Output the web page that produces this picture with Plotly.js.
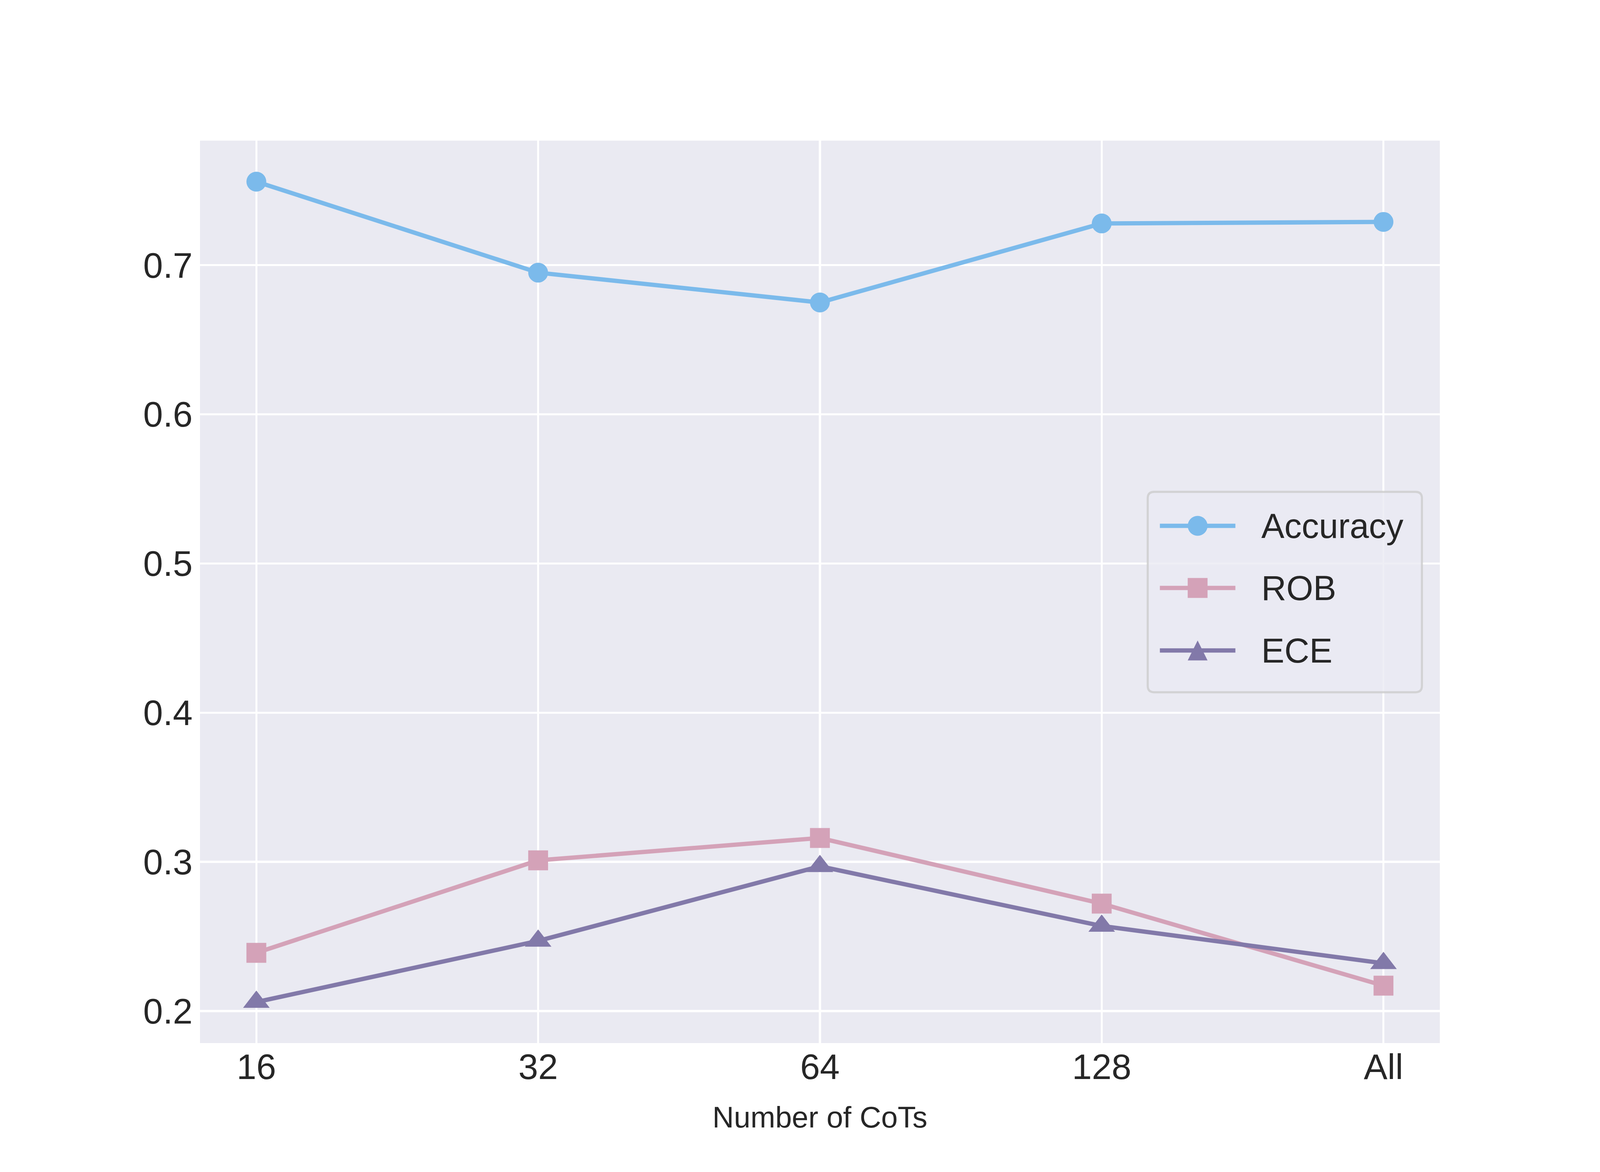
<!DOCTYPE html>
<html>
<head>
<meta charset="utf-8">
<script src="https://cdn.plot.ly/plotly-3.0.1.min.js"></script>
<style>html,body{margin:0;padding:0;background:#fff;overflow:hidden}</style>
</head>
<body>
<div id="plot"></div>
<script>
const cots = ['16', '32', '64', '128', 'All'];
const accuracy = [0.756, 0.695, 0.675, 0.728, 0.729];
const rob = [0.239, 0.301, 0.316, 0.272, 0.217];
const ece = [0.206, 0.247, 0.297, 0.257, 0.232];

const seriesNames = ['Accuracy', 'ROB', 'ECE'];
const seriesValues = [accuracy, rob, ece];
const seriesColors = ['#7bbaeb', '#d4a2b8', '#8279a9'];
const seriesSymbols = ['circle', 'square', 'triangle-up'];
const symbolSizes = [62, 62, 72];

// everything below is laid out on a 5000x3000 design grid and scaled to the window
const W = window.innerWidth || 5000;
const H = window.innerHeight || 3000;
const sx = W / 5000, sy = H / 3000, s = Math.min(sx, sy);
const margin = {l: 625 * sx, r: 500 * sx, t: 360 * sy, b: 330 * sy};
const plotW = W - margin.l - margin.r;
const plotH = H - margin.t - margin.b;
const textColor = '#262626';
const fontFamily = 'Liberation Sans, Arial, sans-serif';

// design-grid pixels -> paper coords
const px = (x) => (x * sx - margin.l) / plotW;
const py = (y) => (H - margin.b - y * sy) / plotH;

const traces = seriesNames.map((name, i) => ({
  x: cots,
  y: seriesValues[i],
  name,
  type: 'scatter',
  mode: 'lines+markers',
  line: {color: seriesColors[i], width: 13.5 * s},
  marker: {color: seriesColors[i], symbol: seriesSymbols[i], size: symbolSizes[i] * s},
  showlegend: false,
  cliponaxis: false,
}));

// hand-made legend (plotly caps legend marker sizes)
const box = {x0: px(3587), x1: px(4444), y0: py(1772), y1: py(1259)};
const rx = 20 * s / plotW, ry = 20 * s / plotH;
const boxPath = [
  'M', box.x0 + rx, box.y1,
  'L', box.x1 - rx, box.y1,
  'Q', box.x1, box.y1, box.x1, box.y1 - ry,
  'L', box.x1, box.y0 + ry,
  'Q', box.x1, box.y0, box.x1 - rx, box.y0,
  'L', box.x0 + rx, box.y0,
  'Q', box.x0, box.y0, box.x0, box.y0 + ry,
  'L', box.x0, box.y1 - ry,
  'Q', box.x0, box.y1, box.x0 + rx, box.y1,
  'Z',
].join(' ');

const shapes = [{
  type: 'path', xref: 'paper', yref: 'paper', layer: 'above',
  path: boxPath,
  fillcolor: 'rgba(234,234,242,0.8)',
  line: {color: 'rgba(204,204,204,0.8)', width: 6.5 * s},
}];
const annotations = [];
const rowY = [1346, 1505, 1665];
const half = 31 * s;

seriesNames.forEach((name, i) => {
  const yc = py(rowY[i]);
  const xc = px(3743);
  shapes.push({
    type: 'line', xref: 'paper', yref: 'paper', layer: 'above',
    x0: px(3625), x1: px(3861), y0: yc, y1: yc,
    line: {color: seriesColors[i], width: 13.5 * s},
  });
  const mark = {
    xref: 'paper', yref: 'paper', layer: 'above',
    xsizemode: 'pixel', ysizemode: 'pixel', xanchor: xc, yanchor: yc,
    fillcolor: seriesColors[i], line: {width: 0},
  };
  if (seriesSymbols[i] === 'circle') {
    Object.assign(mark, {type: 'circle', x0: -half, x1: half, y0: -half, y1: half});
  } else if (seriesSymbols[i] === 'square') {
    Object.assign(mark, {type: 'rect', x0: -half, x1: half, y0: -half, y1: half});
  } else {
    Object.assign(mark, {type: 'path', path: `M${-half},${-half} L${half},${-half} L0,${half} Z`});
  }
  shapes.push(mark);
  annotations.push({
    xref: 'paper', yref: 'paper', x: px(3940), y: yc,
    xanchor: 'left', yanchor: 'middle', showarrow: false,
    text: name, font: {size: 108 * s, color: textColor, family: fontFamily},
  });
});

const layout = {
  width: W,
  height: H,
  margin: {...margin, pad: 0},
  paper_bgcolor: '#ffffff',
  plot_bgcolor: '#eaeaf2',
  font: {family: fontFamily, color: textColor},
  showlegend: false,
  xaxis: {
    type: 'category',
    range: [-0.2, 4.2],
    showgrid: true,
    gridcolor: '#ffffff',
    gridwidth: 6.5 * s,
    zeroline: false,
    showline: false,
    ticks: '',
    automargin: false,
    tickfont: {size: 111 * s, color: textColor},
    title: {text: 'Number of CoTs', font: {size: 93 * s, color: textColor}, standoff: 52 * sy},
  },
  yaxis: {
    range: [0.1785, 0.7835],
    tick0: 0,
    dtick: 0.1,
    tickformat: '.1f',
    showgrid: true,
    gridcolor: '#ffffff',
    gridwidth: 6.5 * s,
    zeroline: false,
    showline: false,
    ticks: '',
    ticklabelstandoff: Math.round(22 * s),
    automargin: false,
    tickfont: {size: 111 * s, color: textColor},
  },
  shapes,
  annotations,
};

Plotly.newPlot('plot', traces, layout, {staticPlot: true});
</script>
</body>
</html>
